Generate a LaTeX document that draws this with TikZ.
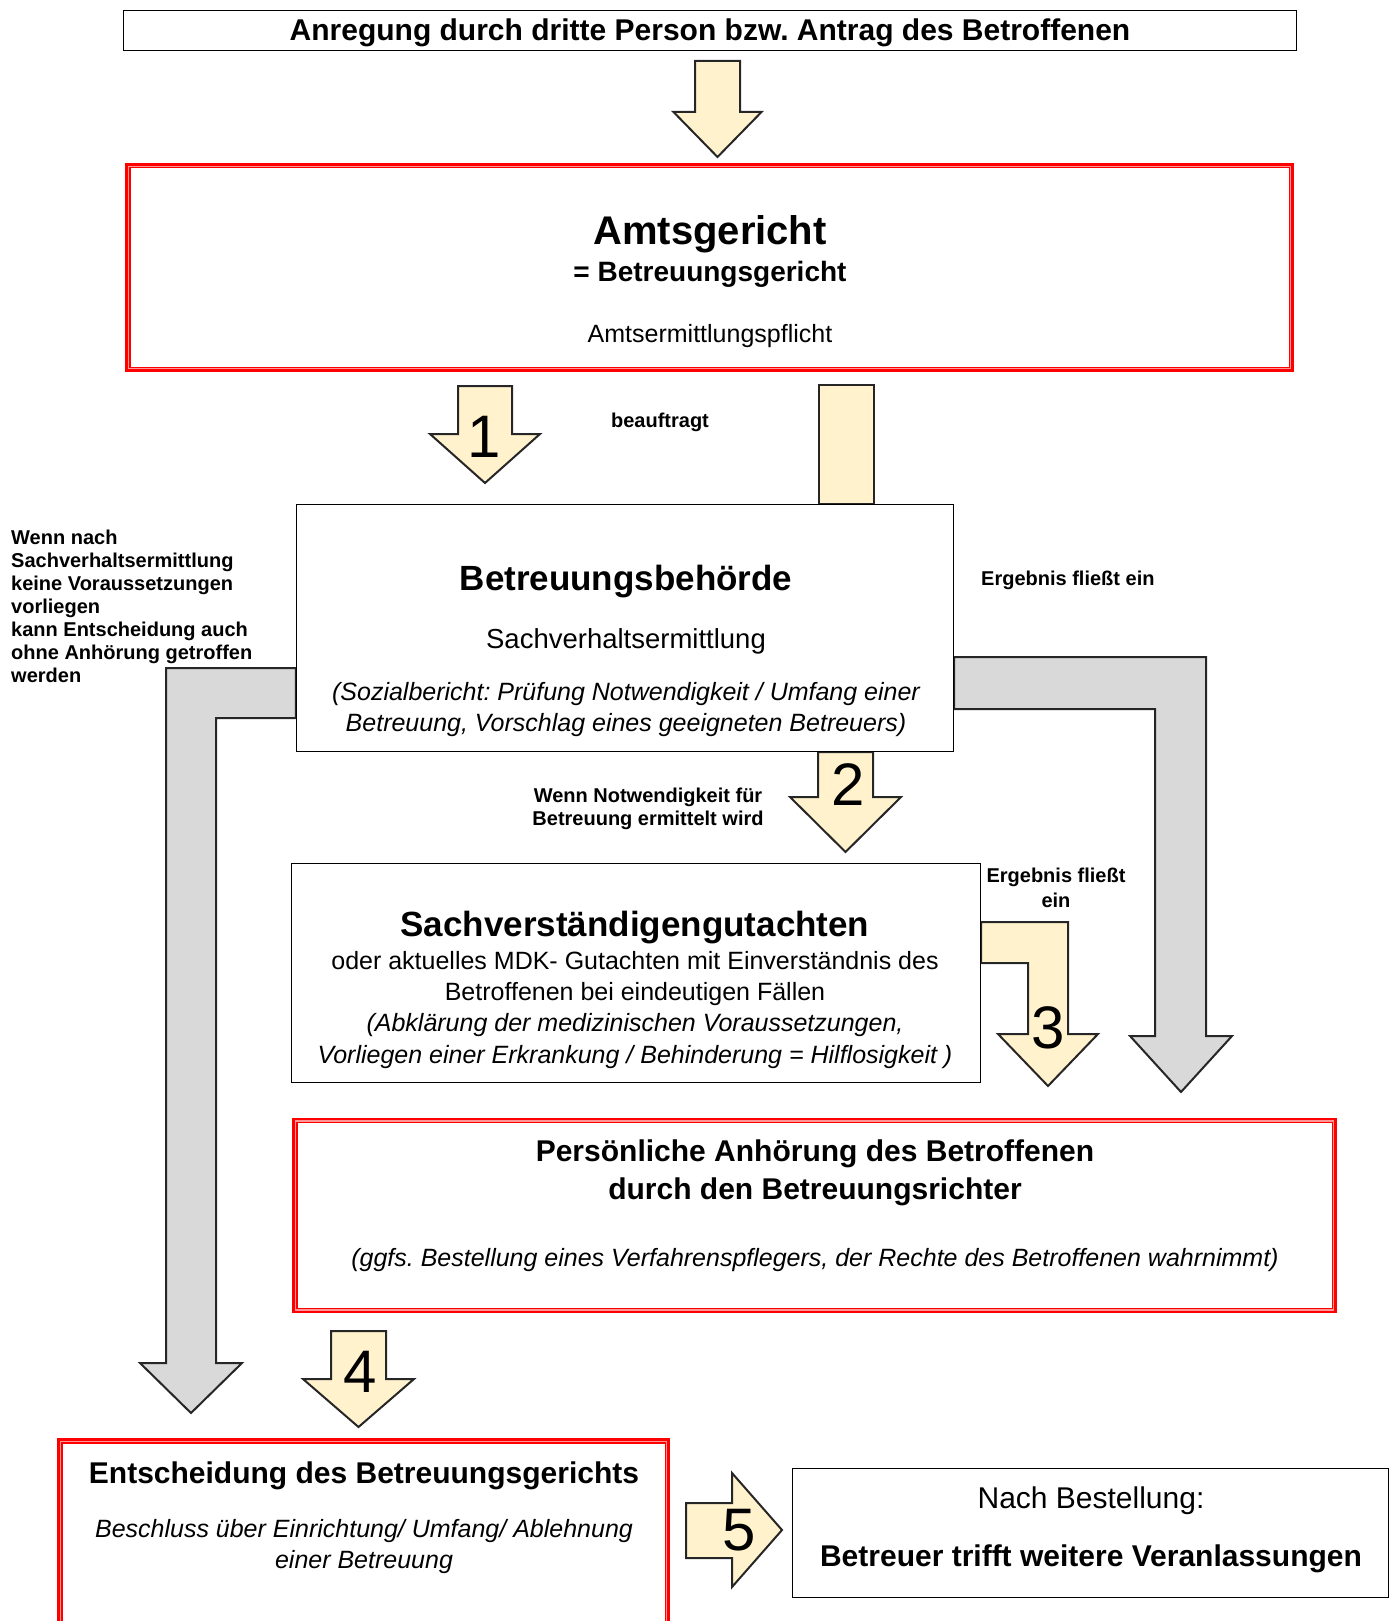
\documentclass[tikz,border=0pt]{standalone}
\usepackage{fontspec}
\setmainfont{Liberation Sans}
\usetikzlibrary{backgrounds}
\definecolor{cream}{RGB}{255,242,204}
\definecolor{lgray}{RGB}{217,217,217}
\definecolor{pinkish}{RGB}{255,150,150}
\frenchspacing
\begin{document}
\begin{tikzpicture}[x=1pt,y=-1pt,
  plainbox/.style={draw=black, line width=1.4pt, fill=white, rectangle, inner sep=0pt},
  redbox/.style={draw=red, line width=5.5pt, fill=white, rectangle, inner sep=0pt},
  pinkline/.style={draw=pinkish, line width=1.4pt},
  blk/.style={draw=black!85, line width=2pt, line join=miter},
  txt/.style={inner sep=0pt, anchor=base},
  ltxt/.style={inner sep=0pt, anchor=base west},
  sb/.style={font=\fontsize{#1}{#1}\selectfont\bfseries},
  sr/.style={font=\fontsize{#1}{#1}\selectfont},
  si/.style={font=\fontsize{#1}{#1}\selectfont\itshape},
  digit/.style={inner sep=0pt, anchor=base, font=\fontsize{60}{60}\selectfont}]
\useasboundingbox (0,0) rectangle (1394,1621);

% ---------- boxes ----------
\node[plainbox, minimum width=1173pt, minimum height=40pt] (top) at (710,30.5) {};
\node[redbox, minimum width=1163.5pt, minimum height=203.5pt] (amts) at (709.5,267.5) {};
\node[plainbox, minimum width=657pt, minimum height=247pt] (behoerde) at (625,628) {};
\node[plainbox, minimum width=689pt, minimum height=219pt] (gutachten) at (636,973) {};
\node[redbox, minimum width=1039.5pt, minimum height=190pt] (anhoerung) at (814.5,1215.5) {};
\node[redbox, minimum width=607.5pt, minimum height=200pt] (entscheidung) at (363.5,1541) {};
\node[plainbox, minimum width=596pt, minimum height=129pt] (nach) at (1090.5,1533) {};

\foreach \b in {amts,anhoerung,entscheidung}
  \draw[pinkline] ([shift={(3.4,3.4)}]\b.north west) rectangle ([shift={(-3.4,-3.4)}]\b.south east);

% ---------- block arrows (behind boxes) ----------
\begin{scope}[on background layer]
  % top -> amts
  \draw[blk, fill=cream] (695,61) -- (695,112) -- (673.5,112) -- (717.5,157) -- (761.5,112) -- (740,112) -- (740,61) -- cycle;
  % 1
  \draw[blk, fill=cream] (458,386) -- (458,434) -- (430,434) -- (485,483) -- (540,434) -- (512,434) -- (512,386) -- cycle;
  % bar between amts and behoerde
  \draw[blk, fill=cream] (819,385) rectangle (874,0 |- behoerde.north);
  % 2
  \draw[blk, fill=cream] (818,0 |- behoerde.south) -- (818,797) -- (790,797) -- (845.5,852) -- (901,797) -- (873,797) -- (873,0 |- behoerde.south) -- cycle;
  % left gray L arrow
  \draw[blk, fill=lgray] (behoerde.west |- 0,668) -- (166,668) -- (166,1363) -- (140,1363) -- (191,1413) -- (242,1363) -- (216,1363) -- (216,718) -- (behoerde.west |- 0,718) -- cycle;
  % right gray L arrow
  \draw[blk, fill=lgray] (behoerde.east |- 0,657) -- (1206,657) -- (1206,1036) -- (1232,1036) -- (1181,1092) -- (1130,1036) -- (1155,1036) -- (1155,709) -- (behoerde.east |- 0,709) -- cycle;
  % 3
  \draw[blk, fill=cream] (gutachten.east |- 0,922) -- (1068,922) -- (1068,1034) -- (1098,1034) -- (1048,1086) -- (998,1034) -- (1028,1034) -- (1028,963) -- (gutachten.east |- 0,963) -- cycle;
  % 4
  \draw[blk, fill=cream] (331,1331) -- (331,1379) -- (303,1379) -- (358.5,1427) -- (414,1379) -- (386,1379) -- (386,1331) -- cycle;
  % 5
  \draw[blk, fill=cream] (686,1503) -- (732,1503) -- (732,1473) -- (782,1530) -- (732,1587) -- (732,1558) -- (686,1558) -- cycle;
\end{scope}

% ---------- digits ----------
\node[digit] (d1) at (484,457) {1};
\node[digit] (d2) at (848,805) {2};
\node[digit] (d3) at (1048,1048) {3};
\node[digit] (d4) at (360,1392) {4};
\node[digit] (d5) at (739,1550) {5};

% ---------- texts ----------
\node[txt, sb=30] (ttop) at (710,41) {Anregung durch dritte Person bzw. Antrag des Betroffenen};

\node[txt, sb=40] (t1) at (710,244) {Amtsgericht};
\node[txt, sb=28] (t2) at (710,281) {= Betreuungsgericht};
\node[txt, sr=25] (t3) at (710,342) {Amtsermittlungspflicht};

\node[txt, sb=20] (tbeauf) at (660,427) {beauftragt};

\node[txt, sb=35] (b1) at (626,590) {Betreuungsbehörde};
\node[txt, sr=27.5] (b2) at (626,648) {Sachverhaltsermittlung};
\node[txt, si=25] (b3) at (626,700) {(Sozialbericht: Prüfung Notwendigkeit / Umfang einer};
\node[txt, si=25] (b4) at (626,731) {Betreuung, Vorschlag eines geeigneten Betreuers)};

\foreach \t [count=\i] in {Wenn nach, Sachverhaltsermittlung, keine Voraussetzungen, vorliegen, kann Entscheidung auch, ohne Anhörung getroffen, werden}
  \node[ltxt, sb=20] (left\i) at (11,{544+23.1*(\i-1)}) {\t};

\node[ltxt, sb=20] (erg1) at (981,585) {Ergebnis fließt ein};

\node[txt, sb=20] (w1) at (648,802) {Wenn Notwendigkeit für};
\node[txt, sb=20] (w2) at (648,825) {Betreuung ermittelt wird};

\node[txt, sb=35] (g1) at (635,936) {Sachverständigengutachten};
\node[txt, sr=25] (g2) at (635,969) {oder aktuelles MDK- Gutachten mit Einverständnis des};
\node[txt, sr=25] (g3) at (635,1000) {Betroffenen bei eindeutigen Fällen};
\node[txt, si=25] (g4) at (635,1031) {(Abklärung der medizinischen Voraussetzungen,};
\node[txt, si=25] (g5) at (635,1063) {Vorliegen einer Erkrankung / Behinderung = Hilflosigkeit )};

\node[txt, sb=20] (erg2a) at (1056,882) {Ergebnis fließt};
\node[txt, sb=20] (erg2b) at (1056,907) {ein};

\node[txt, sb=30] (a1) at (815,1161) {Persönliche Anhörung des Betroffenen};
\node[txt, sb=30] (a2) at (815,1199) {durch den Betreuungsrichter};
\node[txt, si=25] (a3) at (815,1266) {(ggfs. Bestellung eines Verfahrenspflegers, der Rechte des Betroffenen wahrnimmt)};

\node[txt, sb=30] (e1) at (364,1483) {Entscheidung des Betreuungsgerichts};
\node[txt, si=25] (e2) at (364,1537) {Beschluss über Einrichtung/ Umfang/ Ablehnung};
\node[txt, si=25] (e3) at (364,1568) {einer Betreuung};

\node[txt, sr=30] (n1) at (1091,1508) {Nach Bestellung:};
\node[txt, sb=30] (n2) at (1091,1566) {Betreuer trifft weitere Veranlassungen};
\end{tikzpicture}
\end{document}
